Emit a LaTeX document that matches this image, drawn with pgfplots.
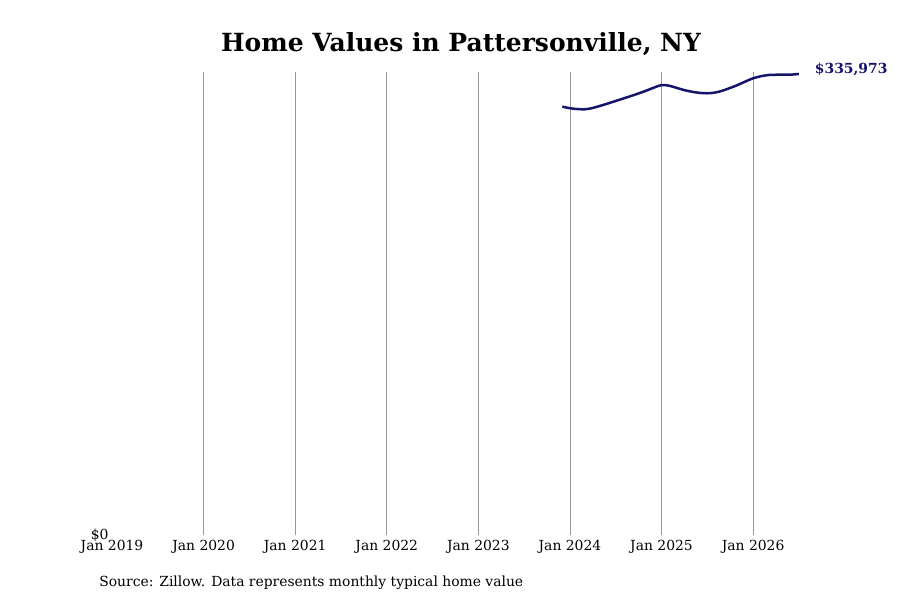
\documentclass[border=0pt]{standalone}
\usepackage{pgfplots}
\pgfplotsset{compat=1.18}
\usepackage{fontspec}
\setmainfont{DejaVu Serif}
\definecolor{linenavy}{HTML}{14146B}
\definecolor{gridgray}{HTML}{999999}

% 1 px of the 900x600 reference = 0.72pt; months counted from Jan 2019 = 0
\begin{document}
\begin{tikzpicture}
\path[use as bounding box] (0pt,0pt) rectangle (648pt,432pt);
\begin{axis}[
    at={(80.64pt,46.8pt)}, anchor=south west,
    scale only axis,
    width=498.96pt, height=333.36pt,
    xmin=0, xmax=90.8,
    ymin=0, ymax=337400,
    axis line style={draw=none},
    scaled y ticks=false,
    xtick={12,24,36,48,60,72,84},
    xticklabels={Jan 2020,Jan 2021,Jan 2022,Jan 2023,Jan 2024,Jan 2025,Jan 2026},
    extra x ticks={0},
    extra x tick labels={Jan 2019},
    extra x tick style={grid=none},
    ytick={0},
    yticklabels={\$0},
    xmajorgrids,
    major grid style={gridgray, line width=0.6pt},
    major tick length=0pt,
    tick label style={font=\fontsize{10}{12}\selectfont},
    xticklabel style={yshift=0pt},
    yticklabel style={xshift=1pt, yshift=-0.5pt},
    clip=false,
]
\addplot[linenavy, line width=1.8pt, smooth] coordinates {
(59,312150) (60,311000) (61,310400) (62,310250) (63,311200) (64,312800)
(65,314500) (66,316300) (67,318100) (68,319900) (69,321800) (70,323800)
(71,326000) (72,327900) (73,327400) (74,325800) (75,324200) (76,323000)
(77,322200) (78,321900) (79,322400) (80,323800) (81,325800) (82,328000)
(83,330500) (84,332800) (85,334300) (86,335200) (87,335400) (88,335500)
(89,335500) (90,335973)
};
\node[anchor=west, font=\bfseries\fontsize{10}{12}\selectfont, text=linenavy, xshift=8pt, yshift=3.5pt]
    at (axis cs:90,335973) {\$335,973};
\end{axis}
\node[font=\bfseries\fontsize{18}{22}\selectfont] at (331.92pt,400.32pt) {Home Values in Pattersonville, NY};
\node[anchor=west, font=\fontsize{10}{12}\selectfont] at (68pt,12.2pt) {Source: Zillow. Data represents monthly typical home value};
\end{tikzpicture}
\end{document}
